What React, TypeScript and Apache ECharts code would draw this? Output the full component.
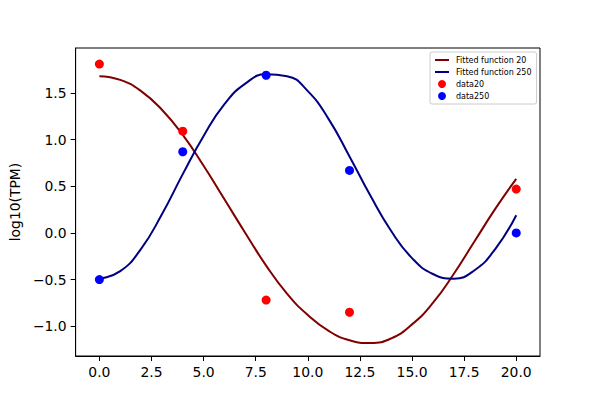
import React, { useEffect, useRef } from "react";
import * as echarts from "echarts";

const xCurve = [0, 1, 2, 3, 4, 5, 6, 7, 8, 9, 10, 11, 12, 13, 14, 15, 16, 17, 18, 19, 20];
const fit20 = [1.68, 1.64, 1.52, 1.32, 1.05, 0.72, 0.36, 0.0, -0.35, -0.65, -0.88, -1.05, -1.15, -1.18, -1.13, -0.98, -0.75, -0.44, -0.09, 0.26, 0.58];
const fit250 = [-0.49, -0.41, -0.17, 0.2, 0.63, 1.04, 1.38, 1.6, 1.7, 1.68, 1.52, 1.22, 0.82, 0.4, 0.02, -0.27, -0.44, -0.49, -0.4, -0.17, 0.19];
const xData = [0, 4, 8, 12, 20];
const data20 = [1.81, 1.09, -0.72, -0.85, 0.47];
const data250 = [-0.5, 0.87, 1.69, 0.67, 0.0];
const xTicks = [0, 2.5, 5, 7.5, 10, 12.5, 15, 17.5, 20];
const yTicks = [-1, -0.5, 0, 0.5, 1, 1.5];

const fmt = (v: number) => {
  const s = Number(v).toFixed(1);
  return s.startsWith("-") ? "\u2212" + s.slice(1) : s;
};

const lineIcon = "path://M0,0M14,8M0,3L14,3L14,5L0,5Z";

export default function App() {
  const ref = useRef<HTMLDivElement>(null);
  useEffect(() => {
    const chart = echarts.init(ref.current!, null, { renderer: "svg" });
    const font = "DejaVu Sans";
    chart.setOption({
      animation: false,
      textStyle: { fontFamily: font },
      grid: { left: 75, right: 60, top: 48, bottom: 44, show: true, borderColor: "#000", borderWidth: 1 },
      legend: {
        orient: "vertical",
        left: 430,
        top: 52,
        padding: [4, 5],
        itemGap: 4,
        itemWidth: 14,
        itemHeight: 8,
        backgroundColor: "rgba(255,255,255,0.8)",
        borderColor: "#cccccc",
        borderWidth: 1,
        borderRadius: 2,
        textStyle: { fontSize: 8, fontFamily: font, color: "#000", padding: [0, 0, 0, 2] },
        data: [
          { name: "Fitted function 20", icon: lineIcon },
          { name: "Fitted function 250", icon: lineIcon },
          { name: "data20", icon: "circle" },
          { name: "data250", icon: "circle" },
        ],
      },
      xAxis: {
        type: "value",
        min: -1.14,
        max: 21.14,
        axisLine: { show: true, onZero: false, lineStyle: { color: "#000" } },
        axisTick: { show: true, length: 5, lineStyle: { color: "#000" }, customValues: xTicks },
        axisLabel: { color: "#000", fontSize: 13.9, fontFamily: font, margin: 9, customValues: xTicks, formatter: fmt },
        splitLine: { show: false },
      },
      yAxis: {
        type: "value",
        min: -1.319,
        max: 1.982,
        name: "log10(TPM)",
        nameLocation: "middle",
        nameGap: 50,
        nameTextStyle: { color: "#000", fontSize: 13.9, fontFamily: font },
        axisLine: { show: true, onZero: false, lineStyle: { color: "#000" } },
        axisTick: { show: true, length: 5, lineStyle: { color: "#000" }, customValues: yTicks },
        axisLabel: { color: "#000", fontSize: 13.9, fontFamily: font, margin: 9, customValues: yTicks, formatter: fmt },
        splitLine: { show: false },
      },
      series: [
        {
          name: "Fitted function 20",
          type: "line",
          smooth: true,
          symbol: "none",
          data: xCurve.map((x, i) => [x, fit20[i]]),
          lineStyle: { color: "#800000", width: 2 },
          itemStyle: { color: "#800000" },
        },
        {
          name: "Fitted function 250",
          type: "line",
          smooth: true,
          symbol: "none",
          data: xCurve.map((x, i) => [x, fit250[i]]),
          lineStyle: { color: "#000080", width: 2 },
          itemStyle: { color: "#000080" },
        },
        {
          name: "data20",
          type: "scatter",
          symbolSize: 9,
          data: xData.map((x, i) => [x, data20[i]]),
          itemStyle: { color: "#ff0000", opacity: 1 },
          z: 3,
        },
        {
          name: "data250",
          type: "scatter",
          symbolSize: 9,
          data: xData.map((x, i) => [x, data250[i]]),
          itemStyle: { color: "#0000ff", opacity: 1 },
          z: 3,
        },
      ],
    });
    return () => chart.dispose();
  }, []);
  return (
    <div
      ref={ref}
      style={{ position: "absolute", left: 0, top: 0, width: 600, height: 400, background: "#fff" }}
    />
  );
}
